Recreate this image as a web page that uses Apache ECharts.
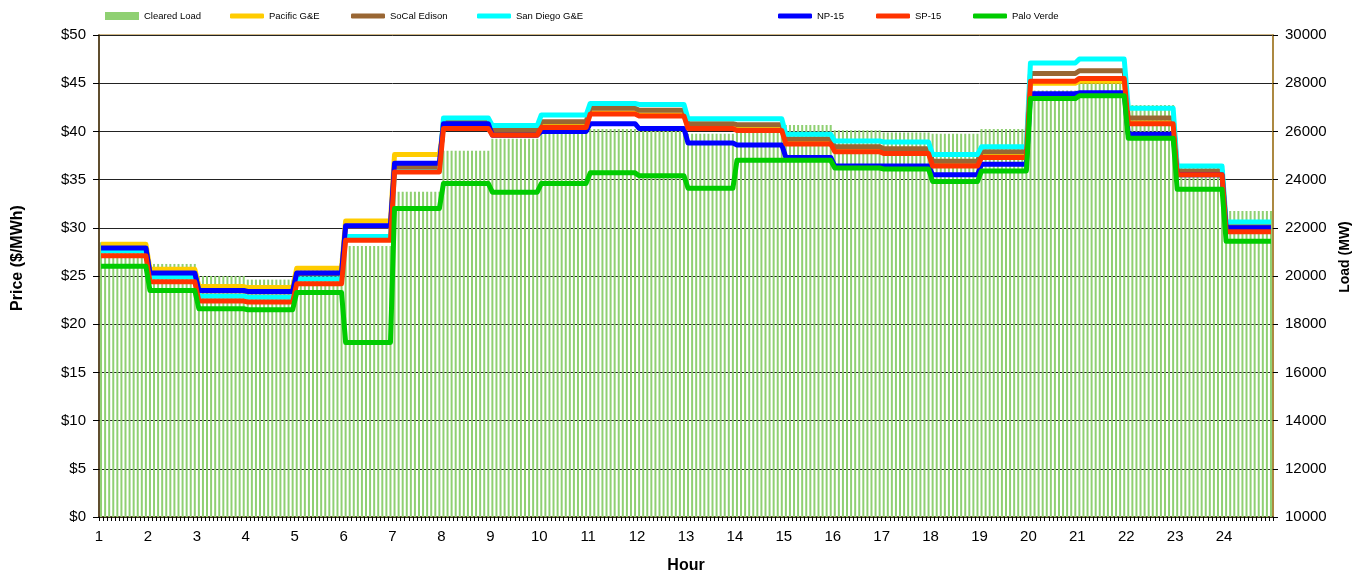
<!DOCTYPE html>
<html>
<head>
<meta charset="utf-8">
<script src="https://cdn.jsdelivr.net/npm/echarts@6/dist/echarts.min.js"></script>
<style>
html,body{margin:0;padding:0;background:#fff;}
#chart{width:1354px;height:574px;}
</style>
</head>
<body>
<div id="chart"></div>
<script>
// Hours 1..24 (12 five-minute intervals per hour)
var hours = [1,2,3,4,5,6,7,8,9,10,11,12,13,14,15,16,17,18,19,20,21,22,23,24];
var intervalsPerHour = 12;

// Cleared Load (MW), hourly
var clearedLoad = [21400,20500,20000,19850,20350,21250,23500,25200,25700,26000,26100,26100,25900,26200,26270,26050,25950,25900,26100,27700,28000,27100,24500,22700];
// Prices ($/MWh), hourly
var pacificGE   = [28.3,25.7,23.9,23.8,25.8,30.7,37.6,40.4,39.7,40.5,41.9,41.7,40.4,40.2,38.8,38.0,37.8,36.5,37.4,45.0,45.2,40.9,35.7,30.3];
var socalEdison = [27.85,25.25,23.45,23.35,25.25,30.15,36.3,41.0,40.1,41.0,42.4,42.2,40.8,40.7,39.2,38.4,38.2,36.9,37.9,46.0,46.3,41.4,35.9,30.1];
var sanDiegoGE  = [27.6,24.9,22.9,22.8,24.7,29.1,35.85,41.4,40.6,41.7,42.9,42.8,41.3,41.3,39.7,39.0,38.9,37.6,38.4,47.1,47.5,42.4,36.4,30.6];
var np15        = [27.9,25.3,23.5,23.4,25.3,30.2,36.7,40.8,39.6,40.0,40.8,40.3,38.8,38.6,37.3,36.4,36.4,35.5,36.6,43.9,44.0,39.7,35.5,30.0];
var sp15        = [27.1,24.4,22.4,22.3,24.2,28.7,35.8,40.3,39.6,40.4,41.8,41.6,40.3,40.1,38.7,37.9,37.7,36.4,37.3,45.2,45.5,40.8,35.5,29.6];
var paloVerde   = [26.0,23.5,21.6,21.5,23.3,18.1,32.0,34.6,33.7,34.6,35.7,35.4,34.1,37.0,37.0,36.2,36.1,34.8,35.9,43.4,43.7,39.3,34.0,28.6];

var priceTicks = {min:0, max:50, interval:5};
var loadTicks = {min:10000, max:30000, interval:2000};

function expand(arr){
  var out = [];
  for (var h = 0; h < hours.length; h++){
    for (var k = 0; k < intervalsPerHour; k++){
      out.push([hours[h] + (k + 0.5) / intervalsPerHour, arr[h]]);
    }
  }
  return out;
}

var FONT = 'Liberation Sans, Arial, sans-serif';
var lineDefs = [
  ['Pacific G&E', pacificGE, '#FFCC00'],
  ['SoCal Edison', socalEdison, '#996633'],
  ['San Diego G&E', sanDiegoGE, '#00FFFF'],
  ['NP-15', np15, '#0000FF'],
  ['SP-15', sp15, '#FF3300'],
  ['Palo Verde', paloVerde, '#00CC00']
];

var series = [{
  name: 'Cleared Load', type: 'bar', yAxisIndex: 1,
  data: expand(clearedLoad), barWidth: 2,
  itemStyle: {color: '#8FD072'}, animation: false
}];
lineDefs.forEach(function(d){
  series.push({
    name: d[0], type: 'line', data: expand(d[1]),
    showSymbol: false, symbol: 'none',
    lineStyle: {color: d[2], width: 5, join: 'round'},
    itemStyle: {color: d[2]},
    animation: false
  });
});

var legendPos = [
  ['Cleared Load', 105, 'rect', 8],
  ['Pacific G&E', 230, 'roundRect', 5],
  ['SoCal Edison', 351, 'roundRect', 5],
  ['San Diego G&E', 477, 'roundRect', 5],
  ['NP-15', 778, 'roundRect', 5],
  ['SP-15', 876, 'roundRect', 5],
  ['Palo Verde', 973, 'roundRect', 5]
];
var legends = legendPos.map(function(p){
  return {
    left: p[1], top: 11, padding: 0, data: [{name: p[0], icon: p[2]}],
    itemWidth: 34, itemHeight: p[3],
    textStyle: {fontSize: 9.5, fontFamily: FONT, color: '#000'},
    selectedMode: false
  };
});

var chart = echarts.init(document.getElementById('chart'), null, {renderer: 'canvas'});
chart.setOption({
  animation: false,
  backgroundColor: '#fff',
  legend: legends,
  grid: {left: 99, right: 81, top: 35, bottom: 57, show: true, borderColor: '#C0A060', borderWidth: 1.5,
         containLabel: false, outerBoundsMode: 'none'},
  xAxis: {
    type: 'value', min: 1, max: 25, interval: 1,
    name: 'Hour', nameLocation: 'middle', nameGap: 41,
    nameTextStyle: {fontSize: 16, fontWeight: 'bold', fontFamily: FONT, color: '#000'},
    axisLine: {show: true, lineStyle: {color: '#3A2A10', width: 1.5}},
    axisTick: {show: true, length: 4, lineStyle: {color: '#000'}},
    minorTick: {show: true, splitNumber: intervalsPerHour, length: 4, lineStyle: {color: '#000'}},
    axisLabel: {fontSize: 15, fontFamily: FONT, color: '#000', margin: 12,
      formatter: function(v){ return v >= 25 ? '' : String(v); }},
    splitLine: {show: false}
  },
  yAxis: [{
    type: 'value', position: 'left', min: priceTicks.min, max: priceTicks.max, interval: priceTicks.interval,
    axisLine: {show: true, lineStyle: {color: '#3A2A10', width: 1.5}},
    axisTick: {show: true, length: 6, lineStyle: {color: '#000'}},
    axisLabel: {fontSize: 15, fontFamily: FONT, color: '#000', margin: 13, formatter: '${value}'},
    splitLine: {show: true, lineStyle: {color: '#222', width: 1}}
  }, {
    type: 'value', position: 'right', min: loadTicks.min, max: loadTicks.max, interval: loadTicks.interval,
    axisLine: {show: true, lineStyle: {color: '#A07A2A', width: 1.5}},
    axisTick: {show: true, length: 5, lineStyle: {color: '#000'}},
    axisLabel: {fontSize: 15, fontFamily: FONT, color: '#000', margin: 12,
      formatter: function(v){ return String(v); }},
    splitLine: {show: false}
  }],
  graphic: [{
    type: 'text', x: 18, y: 258, rotation: Math.PI / 2,
    style: {text: 'Price ($/MWh)', fontSize: 16, fontWeight: 'bold', fontFamily: FONT, fill: '#000', textAlign: 'center', textVerticalAlign: 'middle'}
  }, {
    type: 'text', x: 1345, y: 257, rotation: Math.PI / 2,
    style: {text: 'Load (MW)', fontSize: 14, fontWeight: 'bold', fontFamily: FONT, fill: '#000', textAlign: 'center', textVerticalAlign: 'middle'}
  }],
  series: series
});
</script>
</body>
</html>
